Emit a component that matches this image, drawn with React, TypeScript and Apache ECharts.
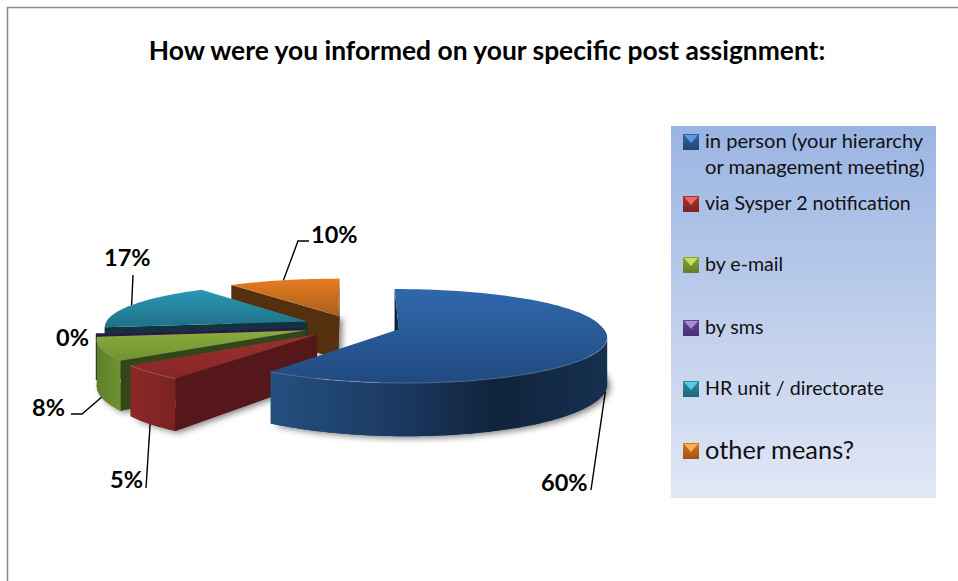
import React, { useEffect, useRef } from "react";
import * as echarts from "echarts";

const titleText = "How were you informed on your specific post assignment:";
const categories = [
  "in person (your hierarchy\nor management meeting)",
  "via Sysper 2 notification",
  "by e-mail",
  "by sms",
  "HR unit / directorate",
  "other means?",
];
const values = [59.8, 5, 8, 0.2, 17, 10];
const drawOrder = [5, 4, 3, 2, 1, 0];

// projection of the tilted disc
const CX = 353.5, CY = 326, RX = 203, RY = 45.1, K = 0.144, KX_BACK = 0.1, DEPTH = 45;
const explodeBy = [0.232, 0.25, 0.25, 0.25, 0.25, 0.25];
const FONT = "Lato, 'Open Sans', sans-serif";

type Tone = { top: [string, string]; wall: string[]; cut: string; base: string; swatch: [string, string, string] };
const tones: Tone[] = [
  { top: ["#3068ad", "#204a80"], wall: ["#25507f", "#1c3c66", "#10233c", "#16304f"], cut: "#0e2440", base: "#1c3c66", swatch: ["#5a9ae0", "#2f62a4", "#1f4674"] },
  { top: ["#9a3230", "#872626"], wall: ["#8a2827", "#7a2222"], cut: "#55171a", base: "#55171a", swatch: ["#ea6a66", "#a8322f", "#7a2321"] },
  { top: ["#8aad3c", "#6f9232"], wall: ["#5e8029", "#6f9232"], cut: "#33461a", base: "#4a6520", swatch: ["#c4e060", "#86a838", "#5f7d28"] },
  { top: ["#3d2a60", "#33224f"], wall: ["#33224f", "#2c1c4a"], cut: "#2a1a48", base: "#2a1a48", swatch: ["#a98bd6", "#634796", "#46306e"] },
  { top: ["#2b98b4", "#1f7088"], wall: ["#1a5a70", "#174c60"], cut: "#10343f", base: "#10343f", swatch: ["#58cbe6", "#2a8fa9", "#1d6577"] },
  { top: ["#e87c20", "#a8601c"], wall: ["#8a4c14", "#6e3c10"], cut: "#55300e", base: "#55300e", swatch: ["#fbb050", "#d8761f", "#9c5316"] },
];

// label position, whether the leader starts at the bottom rim, and its bends
const callouts: { label: [number, number]; h: number; bends: [number, number][] }[] = [
  { label: [541, 482], h: DEPTH, bends: [[591, 490]] },
  { label: [110, 479], h: DEPTH, bends: [[146, 488]] },
  { label: [32, 407], h: DEPTH, bends: [[82, 414], [71, 414]] },
  { label: [56, 337], h: 0, bends: [] },
  { label: [104, 257], h: 0, bends: [[133, 275]] },
  { label: [311, 234], h: 0, bends: [[298, 241], [309, 241]] },
];

const legendRows = [[141, 167], [203], [264], [327], [388], [450]];
const legendFontSizes = [20.1, 19.6, 19.6, 19.6, 19.6, 25.4];

const total = values.reduce((a, b) => a + b, 0);
const spans = (() => {
  let acc = 0;
  return values.map((v) => {
    const a0 = (acc / total) * Math.PI * 2;
    acc += v;
    return [a0, (acc / total) * Math.PI * 2];
  });
})();

const project = (X: number, Y: number, h = 0): [number, number] => {
  const s = 1 / (1 - K * Y);
  const sx = Y < 0 ? 1 / (1 - KX_BACK * Y) : s;
  return [CX + RX * X * sx, CY + RY * Y * s + h * s];
};

const vGrad = (a: string, b: string) =>
  new echarts.graphic.LinearGradient(0, 0, 0, 1, [{ offset: 0, color: a }, { offset: 1, color: b }]);
const hGrad = (cols: string[]) =>
  new echarts.graphic.LinearGradient(0, 0, 1, 0, cols.map((c, i) => ({ offset: i / (cols.length - 1), color: c })));

function renderSlice(_: any, api: any) {
  const idx = api.value(0) as number;
  const [a0, a1] = spans[idx];
  const mid = (a0 + a1) / 2;
  const ex = explodeBy[idx] * Math.sin(mid);
  const ey = -explodeBy[idx] * Math.cos(mid);
  const tone = tones[idx];
  const steps = Math.max(2, Math.ceil((a1 - a0) / (Math.PI / 120)));
  const thetas: number[] = [];
  for (let i = 0; i <= steps; i++) thetas.push(a0 + ((a1 - a0) * i) / steps);
  const at = (t: number, h = 0) => project(ex + Math.sin(t), ey - Math.cos(t), h);
  const apex = (h = 0) => project(ex, ey, h);
  const arcTop = thetas.map((t) => at(t));
  const arcBot = thetas.map((t) => at(t, DEPTH));
  const children: any[] = [];

  children.push({
    type: "polygon",
    shape: { points: [apex(DEPTH), ...arcBot] },
    style: { fill: tone.base, shadowBlur: 6, shadowColor: "rgba(0,0,0,0.5)", shadowOffsetX: 3, shadowOffsetY: 2 },
  });

  const cutWall = (p: [number, number], pb: [number, number], q: [number, number], qb: [number, number]) => {
    if (q[0] >= p[0]) return;
    children.push({ type: "polygon", shape: { points: [p, q, qb, pb] }, style: { fill: tone.cut } });
  };
  cutWall(apex(), apex(DEPTH), arcTop[0], arcBot[0]);
  cutWall(arcTop[steps], arcBot[steps], apex(), apex(DEPTH));

  // outer wall: only the stretch that faces the viewer
  const frontTop: [number, number][] = [];
  const frontBot: [number, number][] = [];
  for (let i = 0; i < steps; i++) {
    if (arcTop[i + 1][0] < arcTop[i][0]) {
      if (!frontTop.length) {
        frontTop.push(arcTop[i]);
        frontBot.push(arcBot[i]);
      }
      frontTop.push(arcTop[i + 1]);
      frontBot.push(arcBot[i + 1]);
    }
  }
  if (frontTop.length > 1) {
    children.push({
      type: "polygon",
      shape: { points: [...frontTop, ...[...frontBot].reverse()] },
      style: { fill: hGrad(tone.wall) },
    });
  }

  children.push({
    type: "polygon",
    shape: { points: [apex(), ...arcTop] },
    style: { fill: vGrad(tone.top[0], tone.top[1]) },
  });
  if (frontTop.length > 1) {
    children.push({
      type: "polyline",
      shape: { points: frontTop },
      style: { fill: "none", stroke: "rgba(255,255,255,0.22)", lineWidth: 1 },
    });
  }

  const c = callouts[idx];
  if (c.bends.length) {
    const anchor = project(ex + Math.sin(mid), ey - Math.cos(mid), c.h);
    children.push({
      type: "polyline",
      shape: { points: [anchor, ...c.bends] },
      style: { fill: "none", stroke: "#000", lineWidth: 1.4 },
    });
  }
  children.push({
    type: "text",
    style: {
      text: `${Math.round(values[idx])}%`,
      x: c.label[0],
      y: c.label[1],
      fill: "#000",
      font: `bold 23.5px ${FONT}`,
      align: "left",
      verticalAlign: "middle",
    },
  });
  return { type: "group", children };
}

export default function App() {
  const ref = useRef<HTMLDivElement>(null);
  useEffect(() => {
    const chart = echarts.init(ref.current!, undefined, { renderer: "svg" });
    const legendEls: any[] = [
      {
        type: "rect",
        shape: { x: 671, y: 126, width: 265, height: 372 },
        style: { fill: vGrad("#9ab4e2", "#e1e7f5") },
      },
    ];
    categories.forEach((name, i) => {
      const rows = legendRows[i];
      const cy = rows[0] + 1;
      const [lit, mid, low] = tones[i].swatch;
      const x = 683, y = cy - 8, w = 16;
      legendEls.push(
        { type: "rect", shape: { x, y, width: w, height: w }, style: { fill: vGrad(mid, low) } },
        { type: "polygon", shape: { points: [[x + 1, y + 1], [x + w - 1, y + 1], [x + w / 2, y + w / 2 + 1]] }, style: { fill: lit } },
      );
      name.split("\n").forEach((line, j) => {
        legendEls.push({
          type: "text",
          style: {
            text: line,
            x: 705,
            y: rows[j] - 1,
            fill: "#111",
            font: `${legendFontSizes[i]}px ${FONT}`,
            verticalAlign: "middle",
            align: "left",
          },
        });
      });
    });
    chart.setOption({
      animation: false,
      backgroundColor: "#fff",
      title: {
        text: titleText,
        left: 482,
        top: 32,
        textAlign: "center",
        textStyle: { fontFamily: FONT, fontSize: 26.4, fontWeight: "bold", color: "#000" },
      },
      graphic: [
        {
          type: "polyline",
          shape: { points: [[7.5, 581], [7.5, 7.5], [958, 7.5]] },
          style: { fill: "none", stroke: "#8a8a8a", lineWidth: 1.5 },
        },
        ...legendEls,
      ],
      series: [
        {
          type: "custom",
          coordinateSystem: "none",
          clip: false,
          renderItem: renderSlice,
          data: drawOrder.map((i) => [i, values[i]]),
        },
      ],
    });
    return () => chart.dispose();
  }, []);
  return <div ref={ref} style={{ position: "fixed", left: 0, top: 0, width: 958, height: 581 }} />;
}
